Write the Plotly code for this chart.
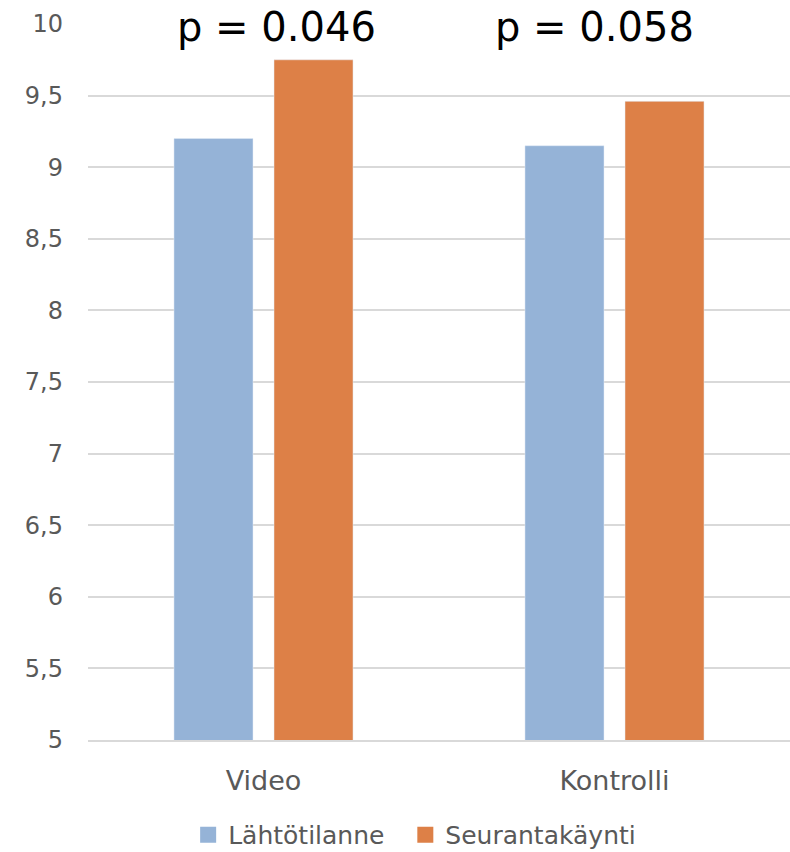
import plotly.graph_objects as go

categories = ["Video", "Kontrolli"]
lahto = [9.2, 9.15]
seuranta = [9.75, 9.46]
series_names = ["Lähtötilanne", "Seurantakäynti"]
p_labels = ["p = 0.046", "p = 0.058"]
colors = ["#95b3d7", "#dd8047"]

FONT = "DejaVu Sans"
GRAY = "#595959"

fig = go.Figure()
for vals, name, col in zip([lahto, seuranta], series_names, colors):
    fig.add_trace(go.Bar(x=categories, y=vals, name=name, marker=dict(color=col),
                         showlegend=False, legendgroup=name))
for name, col in zip(series_names, colors):
    fig.add_trace(go.Scatter(x=[None], y=[None], mode="markers", name=name + "  ",
                             legendgroup=name,
                             marker=dict(symbol="square", size=16, color=col)))

for lbl, xp in zip(p_labels, [0.269, 0.721]):
    fig.add_annotation(text=lbl, xref="paper", yref="paper", x=xp, y=0.996,
                       xanchor="center", yanchor="middle",
                       showarrow=False, font=dict(family=FONT, size=40, color="black"))

fig.update_layout(
    width=790, height=852,
    margin=dict(l=88, r=0, t=24, b=112, autoexpand=False),
    plot_bgcolor="white", paper_bgcolor="white",
    separators=", ",
    barmode="group", bargap=0.43, bargroupgap=0.21,
    font=dict(family=FONT, size=24, color=GRAY),
    legend=dict(orientation="h", x=0.535, xanchor="center", xref="container",
                y=0.02, yanchor="middle", yref="container",
                font=dict(family=FONT, size=25, color=GRAY), itemwidth=30,
                tracegroupgap=0),
    yaxis=dict(range=[5, 10], dtick=0.5, tick0=5, showgrid=True, gridcolor="#d9d9d9",
               gridwidth=1.5, zeroline=False, showline=False, ticks="", automargin=False,
               tickfont=dict(family=FONT, size=24, color=GRAY), ticklabelstandoff=24),
    xaxis=dict(showline=True, linecolor="#d9d9d9", linewidth=1.5, ticks="", automargin=False,
               tickfont=dict(family=FONT, size=27, color=GRAY), ticklabelstandoff=16),
)

fig.write_html("out.html",
               post_script="document.body.style.margin='0';document.body.style.overflow='hidden';")
